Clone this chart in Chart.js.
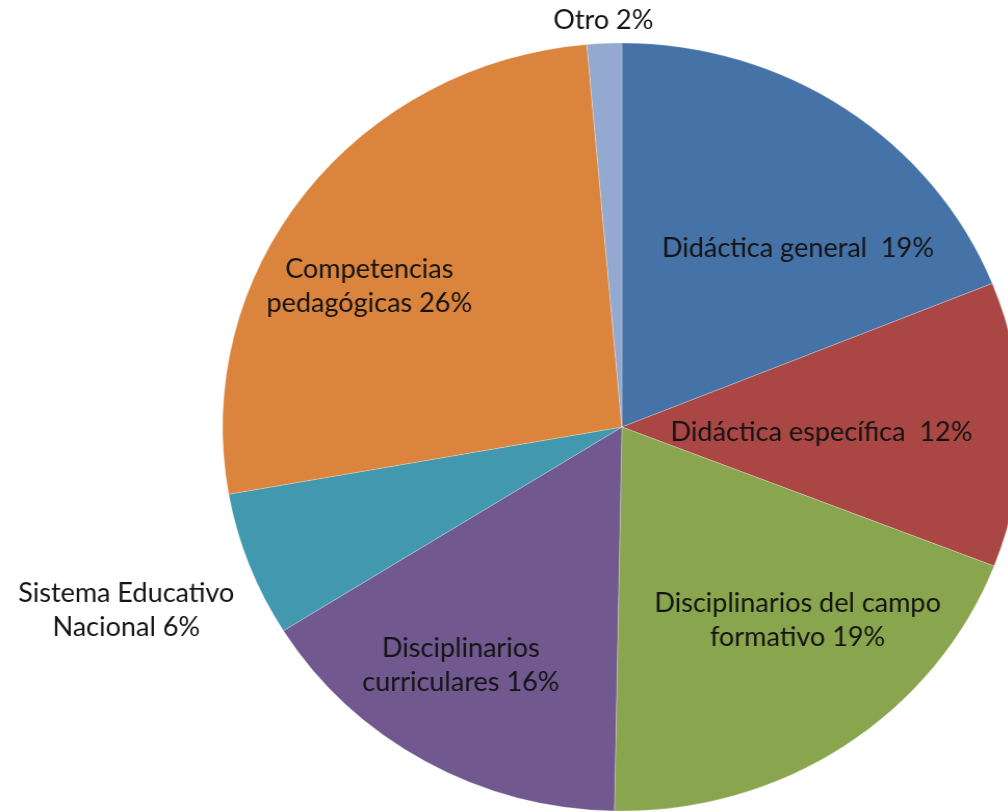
<!DOCTYPE html>
<html>
<head>
<meta charset="utf-8">
<script src="https://cdn.jsdelivr.net/npm/chart.js@4"></script>
<style>
    html, body { margin: 0; padding: 0; background: #fff; overflow: hidden; width: 1008px; height: 812px; }
    #wrap { position: absolute; left: 0; top: 0; width: 1196px; height: 854px; transform: scaleX(1.04); transform-origin: 0 0; }
</style>
</head>
<body>
<div id="wrap"><canvas id="pie_chart"></canvas></div>
<script>
// slices, clockwise from 12 o'clock
let categories = ['Didáctica general', 'Didáctica específica', 'Disciplinarios del campo formativo',
    'Disciplinarios curriculares', 'Sistema Educativo Nacional', 'Competencias pedagógicas', 'Otro'];
let values = [18.9, 12.0, 19.4, 15.8, 6.1, 26.4, 1.4];
let pct_text = ['19%', '12%', '19%', '16%', '6%', '26%', '2%'];
let label_lines = [
    ['Didáctica general  19%'],
    ['Didáctica específica  12%'],
    ['Disciplinarios del campo', 'formativo 19%'],
    ['Disciplinarios', 'curriculares 16%'],
    ['Sistema Educativo', 'Nacional 6%'],
    ['Competencias', 'pedagógicas 26%'],
    ['Otro 2%']
];
let colors = ['#4572A7', '#AA4643', '#89A54E', '#71588F', '#4198AF', '#DB843D', '#93A9CF'];

// label placement: fraction of radius, angle nudge (deg) from the slice middle
let lbl_r = [0.64, 0.50, 0.67, 0.74, 1.33, 0.73, 1.06];
let lbl_da = [9.5, 2, -7.2, 3.5, 0, -7.5, 0];

let sliceLabels = {
    id: 'sliceLabels',
    afterDatasetsDraw(chart) {
        let ctx = chart.ctx;
        let meta = chart.getDatasetMeta(0);
        ctx.save();
        ctx.font = '26px Lato';
        ctx.fillStyle = '#141414';
        ctx.textAlign = 'center';
        ctx.textBaseline = 'middle';
        meta.data.forEach(function (arc, i) {
            let p = arc.getProps(['x', 'y', 'startAngle', 'endAngle', 'outerRadius'], true);
            let mid = (p.startAngle + p.endAngle) / 2 + lbl_da[i] * Math.PI / 180;
            let cx = p.x + Math.cos(mid) * p.outerRadius * lbl_r[i];
            let cy = p.y + Math.sin(mid) * p.outerRadius * lbl_r[i];
            let lines = label_lines[i];
            let lh = 34;
            lines.forEach(function (t, k) {
                ctx.fillText(t, cx, cy + (k - (lines.length - 1) / 2) * lh);
            });
        });
        ctx.restore();
    }
};

let pie = new Chart(document.getElementById('pie_chart').getContext('2d'), {
    type: 'pie',
    data: {
        labels: categories,
        datasets: [{
            data: values,
            backgroundColor: colors,
            borderColor: 'rgba(255,255,255,0.5)',
            borderWidth: 0.5
        }]
    },
    options: {
        responsive: true,
        maintainAspectRatio: false,
        animation: false,
        radius: 384,
        layout: {padding: 0},
        plugins: {legend: {display: false}, tooltip: {enabled: false}}
    },
    plugins: [sliceLabels]
});
</script>
</body>
</html>
